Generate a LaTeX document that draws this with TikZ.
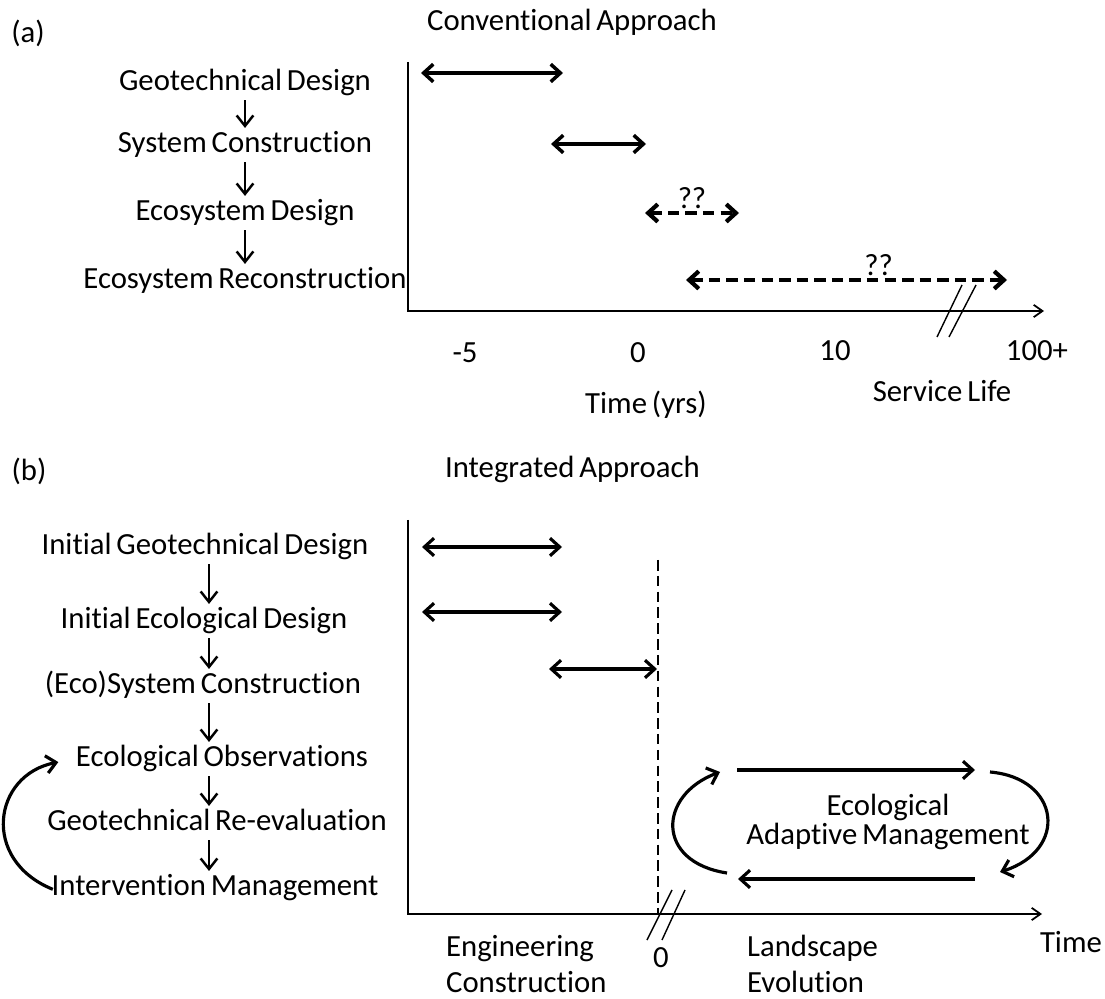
\documentclass[tikz,border=0pt]{standalone}
\usepackage{fontspec}
\setmainfont{Carlito}[Ligatures={NoCommon},WordSpace=0.7]
\usetikzlibrary{arrows.meta}

\begin{document}
\begin{tikzpicture}[x=0.02cm,y=-0.02cm]

\tikzstyle{every node}=[inner sep=1pt,font=\fontsize{17.5}{20.5}\selectfont]
\tikzstyle{phase}=[text height=12.6pt,text depth=4.4pt]
\tikzstyle{twoline}=[align=left,anchor=north west]
\tikzstyle{flow}=[-{Straight Barb[length=6pt,width=9.5pt]},line width=1.4pt]
\tikzstyle{span}=[{Straight Barb[length=5.5pt,width=10pt]}-{Straight Barb[length=5.5pt,width=10pt]},line width=2pt]
\tikzstyle{spanb}=[span,line width=1.8pt]
\tikzstyle{unsure}=[span,line width=2.4pt,dash pattern=on 6.5pt off 3.5pt]
\tikzstyle{axisline}=[-{Straight Barb[length=5pt,width=7pt]},line width=1pt]
\tikzstyle{marker}=[line width=0.9pt,dash pattern=on 6pt off 3pt]
\tikzstyle{brk}=[line width=0.8pt]
\tikzstyle{loop}=[-{Straight Barb[length=5.5pt,width=10pt]},line width=1.8pt]

\useasboundingbox (0,0) rectangle (1105,999);

%(a) conventional
\node (lbla) at (28,33) {(a)};
\node[anchor=west] (titlea) at (425,22) {Conventional Approach};

\node[phase] (gd) at (245,83) {Geotechnical Design};
\node[phase] (sc) at (245,145) {System Construction};
\node[phase] (ed) at (245,213) {Ecosystem Design};
\node[phase] (er) at (245,281) {Ecosystem Reconstruction};

\draw[flow] (gd) -- (sc);
\draw[flow] (sc) -- (ed);
\draw[flow] (ed) -- (er);

%axis
\coordinate (ta) at (408,62);
\coordinate (oa) at (408,311);
\coordinate (ea) at (1044,311);
\draw[axisline] (ta) -- (oa) -- (ea);
\draw[brk] (937,337) -- (962,285);
\draw[brk] (949,337) -- (976,285);

\node (tm5) at (465,353) {-5};
\node (t0) at (638,353) {0};
\node (t10) at (835,351) {10};
\node (t100) at (1037,351) {100+};
\node (timea) at (646,405) {Time (yrs)};
\node (life) at (942,391) {Service Life};

%spans
\coordinate (a1l) at (421,73);
\coordinate (a1r) at (563,73);
\coordinate (a2l) at (551,144);
\coordinate (a2r) at (646,144);
\coordinate (a3l) at (645,213);
\coordinate (a3r) at (739,213);
\coordinate (a4l) at (686,280);
\coordinate (a4r) at (1007,280);

\draw[span] (a1l) -- (a1r);
\draw[span] (a2l) -- (a2r);
\draw[unsure] (a3l) -- node[above] (q3) {??} (a3r);
\draw[unsure] (a4l) -- node[above,pos=0.6] (q4) {??} (a4r);

%(b) integrated
\node (lblb) at (29,471) {(b)};
\node[anchor=west] (titleb) at (443,469) {Integrated Approach};

\node[phase] (igd) at (205,547) {Initial Geotechnical Design};
\node[phase] (ied) at (204,621) {Initial Ecological Design};
\node[phase] (esc) at (203,686) {(Eco)System Construction};
\node[phase] (eo) at (222,759) {Ecological Observations};
\node[phase] (gr) at (217,823) {Geotechnical Re-evaluation};
\node[phase] (im) at (215,888) {Intervention Management};

\coordinate (colb) at (209,0);
\draw[flow] (igd.south -| colb) -- (ied.north -| colb);
\draw[flow] (ied.south -| colb) -- (esc.north -| colb);
\draw[flow] (esc.south -| colb) -- (eo.north -| colb);
\draw[flow] (eo.south -| colb) -- (gr.north -| colb);
\draw[flow] (gr.south -| colb) -- (im.north -| colb);
\draw[loop,shorten >=9pt,shorten <=-2pt] (im.west) .. controls +(-69,-28) and +(-81,16) .. (eo.west);

%axis
\coordinate (tb) at (408,520);
\coordinate (ob) at (408,914);
\coordinate (eb) at (1042,914);
\draw[axisline] (tb) -- (ob) -- (eb);
\coordinate (zt) at (658,560);
\coordinate (zb) at (658,914);
\draw[marker] (zt) -- (zb);
\draw[brk] (647,940) -- (672,890);
\draw[brk] (662,940) -- (685,890);

\node[twoline] (eng) at (444,933) {Engineering\\Construction};
\node (zero) at (661,958) {0};
\node[twoline] (land) at (745,933) {Landscape\\Evolution};
\node[anchor=east] (timeb) at (1104,942) {Time};

%spans
\coordinate (b1l) at (422,547);
\coordinate (b1r) at (562,547);
\coordinate (b2l) at (422,612);
\coordinate (b2r) at (562,612);
\coordinate (b3l) at (549,669);
\coordinate (b3r) at (657,669);

\draw[spanb] (b1l) -- (b1r);
\draw[spanb] (b2l) -- (b2r);
\draw[spanb] (b3l) -- (b3r);

%adaptive cycle
\node[align=center,font=\fontsize{17.5}{17}\selectfont] (eam) at (888,822) {Ecological\\Adaptive Management};
\coordinate (c1) at (737,770);
\coordinate (c2) at (975,770);
\coordinate (c3) at (990,772);
\coordinate (c4) at (1000,872);
\coordinate (c5) at (975,879);
\coordinate (c6) at (738,879);
\coordinate (c7) at (727,873);
\coordinate (c8) at (720,772);
\draw[loop] (c1) -- (c2);
\draw[loop] (c3) .. controls (1060,778) and (1069,850) .. (c4);
\draw[loop] (c5) -- (c6);
\draw[loop] (c7) .. controls (655,862) and (658,795) .. (c8);

\end{tikzpicture}
\end{document}
